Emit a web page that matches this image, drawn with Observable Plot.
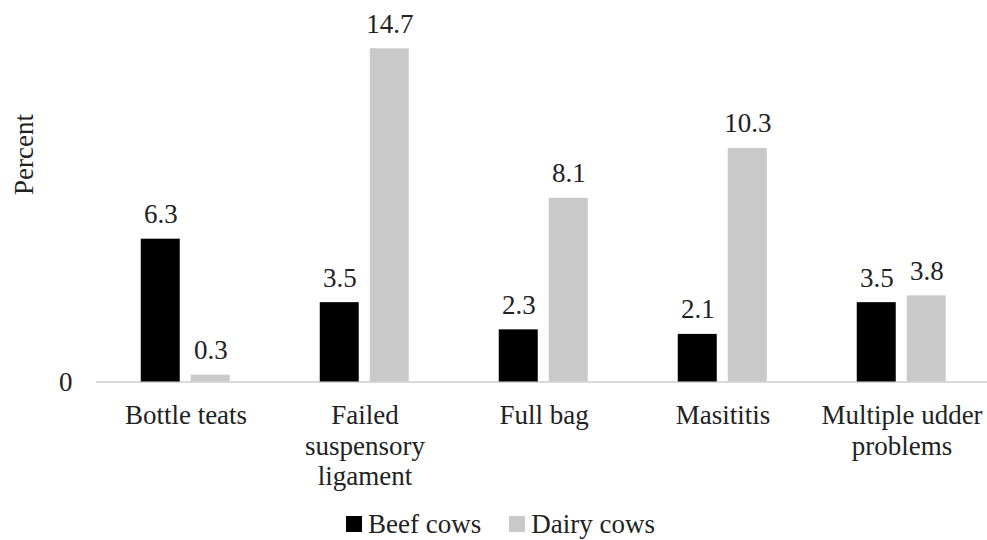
<!DOCTYPE html>
<html>
<head>
<meta charset="utf-8">
<script src="https://cdn.jsdelivr.net/npm/d3@7"></script>
<script src="https://cdn.jsdelivr.net/npm/@observablehq/plot@0.6"></script>
<style>
  html, body { margin: 0; padding: 0; background: #fff; overflow: hidden; }
  #chart svg { display: block; }
  .legend { height: 48px; display: flex; align-items: center; justify-content: center; gap: 28px;
    font-family: "Liberation Serif", "Times New Roman", serif; font-size: 27px; color: #222; padding-left: 14px; }
  .legend span.item { display: flex; align-items: center; gap: 6px; }
  .legend i { display: inline-block; width: 16px; height: 16px; }
</style>
</head>
<body>
<div id="chart"></div>
<div class="legend" id="legend"></div>
<script>
const categories = ["Bottle teats", "Failed suspensory ligament", "Full bag", "Masititis", "Multiple udder problems"];
const tickLabels = ["Bottle teats", "Failed\nsuspensory\nligament", "Full bag", "Masititis", "Multiple udder\nproblems"];
const series = ["Beef cows", "Dairy cows"];
const beefCows = [6.3, 3.5, 2.3, 2.1, 3.5];
const dairyCows = [0.3, 14.7, 8.1, 10.3, 3.8];
const seriesColors = ["#000000", "#c9c9c9"];

const data = categories.flatMap((c, i) => [
  {cat: c, series: series[0], value: beefCows[i]},
  {cat: c, series: series[1], value: dairyCows[i]}
]);
const labelOf = new Map(categories.map((c, i) => [c, tickLabels[i]]));

const chart = Plot.plot({
  width: 987,
  height: 500,
  marginTop: 20,
  marginBottom: 118.5,
  marginLeft: 94.25,
  marginRight: -4.75,
  style: {fontFamily: "'Liberation Serif', 'Times New Roman', serif", fontSize: "27px", color: "#222", background: "#fff"},
  fx: {domain: categories, padding: 0, axis: null},
  x: {domain: series, paddingInner: 0.218, paddingOuter: 0.886, axis: null},
  y: {domain: [0, 15], range: [381.5, 381.5 - 22.67 * 15], axis: null},
  color: {domain: series, range: seriesColors},
  marks: [
    Plot.ruleY([0], {stroke: "#d9d9d9", strokeWidth: 2}),
    Plot.barY(data, {fx: "cat", x: "series", y: "value", fill: "series"}),
    Plot.text(data, {fx: "cat", x: "series", y: "value", text: d => d.value.toFixed(1), lineAnchor: "bottom", dy: -16, fill: "#222"}),
    Plot.axisY({ticks: [0], tickSize: 0, tickPadding: 24, label: null, tickFormat: d => String(d)}),
    Plot.axisFx({anchor: "bottom", tickSize: 0, tickPadding: 21, label: null, tickFormat: d => labelOf.get(d), lineHeight: 1.12, lineWidth: 100}),
    Plot.text(["Percent"], {facet: "super", frameAnchor: "top-left", rotate: -90, textAnchor: "middle", dx: -83, dy: 134, fill: "#222"})
  ]
});
document.getElementById("chart").appendChild(chart);

const legend = document.getElementById("legend");
series.forEach((s, i) => {
  const item = document.createElement("span");
  item.className = "item";
  const sw = document.createElement("i");
  sw.style.background = seriesColors[i];
  item.appendChild(sw);
  item.appendChild(document.createTextNode(s));
  legend.appendChild(item);
});
</script>
</body>
</html>
